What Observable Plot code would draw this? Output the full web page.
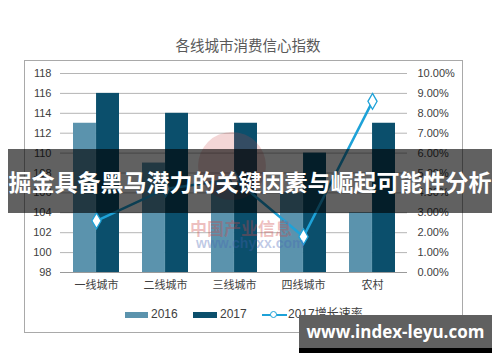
<!DOCTYPE html>
<html>
<head>
<meta charset="utf-8">
<script src="https://cdn.jsdelivr.net/npm/d3@7"></script>
<script src="https://cdn.jsdelivr.net/npm/@observablehq/plot@0.6"></script>
<style>
  html, body { margin: 0; padding: 0; background: #ffffff; }
  #wrap { position: relative; width: 500px; height: 362px; overflow: hidden; font-family: "Liberation Sans", "Noto Sans CJK SC", sans-serif; }
  #wrap svg { position: absolute; left: 0; top: 0; }
  .abs { position: absolute; }
  #frame { left: 24px; top: 60px; width: 437px; height: 271px; border: 1px solid #a9a9a9; box-sizing: content-box; }
  #title { left: 0; width: 496px; top: 37px; text-align: center; font-size: 14.5px; color: #595959; line-height: 18px; }
  .legtxt { font-size: 12px; color: #404040; line-height: 14px; top: 307px; }
  .sw { top: 312px; height: 6px; }
  #banner { left: 8px; top: 149px; width: 484px; height: 64px; background: rgba(0,0,0,0.62); color: #fff; font-family: "Noto Sans CJK SC", sans-serif; font-weight: 700; font-size: 23px; line-height: 64px; text-align: center; white-space: nowrap; }
  #url { left: 299px; top: 315px; width: 193px; height: 33px; background: #606060; border-bottom: 5px solid #000; color: #fff; font-family: "Open Sans", sans-serif; font-weight: 700; font-size: 17px; line-height: 33px; text-align: center; white-space: nowrap; }
  #wm1 { left: 190px; top: 218px; font-family: "Noto Sans CJK SC", sans-serif; font-weight: 700; font-size: 17px; line-height: 20px; color: rgba(205,70,70,0.35); white-space: nowrap; }
  #wm2 { left: 196px; top: 235px; font-family: "Liberation Sans", sans-serif; font-weight: 700; font-size: 14px; line-height: 16px; color: rgba(70,100,180,0.35); white-space: nowrap; }
  #wmc { left: 198px; top: 132px; width: 68px; height: 68px; border-radius: 50%; background: rgba(200,70,70,0.22); }
</style>
</head>
<body>
<div id="wrap">
  <div id="plot"></div>
</div>
<script>
const categories = ["一线城市", "二线城市", "三线城市", "四线城市", "农村"];
const values2016 = [113, 109, 107, 106, 104];
const values2017 = [116, 114, 113, 110, 113];
const growth2017 = [2.6, 4.2, 4.7, 1.8, 8.6]; // percent
const leftTicks = [98, 100, 102, 104, 106, 108, 110, 112, 114, 116, 118];
const rightTicks = [0, 1, 2, 3, 4, 5, 6, 7, 8, 9, 10];
const seriesNames = ["2016", "2017", "2017增长速率"];
const titleText = "各线城市消费信心指数";
const bannerText = "掘金具备黑马潜力的关键因素与崛起可能性分析";
const urlText = "www.index-leyu.com";

const c2016 = "#5b93ad", c2017 = "#0b4f6c", cLine = "#1ea2d8";
const table = categories.map((c, i) => ({cat: c, v2016: values2016[i], v2017: values2017[i], g: growth2017[i]}));
// right axis (0%..10%) mapped onto left scale (98..118)
const pctToY = p => 98 + p * 2;

const chart = Plot.plot({
  width: 500, height: 362,
  marginLeft: 60, marginRight: 93, marginTop: 73, marginBottom: 90,
  style: {fontFamily: '"Liberation Sans", "Noto Sans CJK SC", sans-serif', fontSize: "11px", color: "#404040", background: "transparent", overflow: "visible"},
  x: {type: "band", domain: categories, paddingInner: 1/3, paddingOuter: 1/6, label: null},
  y: {domain: [98, 118], label: null},
  marks: [
    Plot.gridY(leftTicks, {stroke: "#b5b5b5", strokeOpacity: 1}),
    Plot.barY(table, {x: "cat", y1: 98, y2: "v2016", fill: c2016, insetRight: 23.05}),
    Plot.barY(table, {x: "cat", y1: 98, y2: "v2017", fill: c2017, insetLeft: 23.05}),
    Plot.ruleY([98], {stroke: "#9a9a9a"}),
    Plot.axisY(leftTicks, {tickSize: 0, tickPadding: 9, fontSize: 11, label: null}),
    Plot.text(rightTicks, {y: d => pctToY(d), text: d => d.toFixed(2) + "%", frameAnchor: "right", dx: 10, textAnchor: "start", fontSize: 11, fill: "#404040"}),
    Plot.axisX({tickSize: 0, tickPadding: 9, fontSize: 11, label: null}),
    Plot.line(table, {x: "cat", y: d => pctToY(d.g), stroke: cLine, strokeWidth: 2.5}),
    Plot.dot(table, {x: "cat", y: d => pctToY(d.g), symbol: "diamond", r: 4.8, fill: "white", stroke: cLine, strokeWidth: 1.3})
  ]
});
document.getElementById("plot").appendChild(chart);

const wrap = document.getElementById("wrap");
function add(id, cls, html, style) {
  const d = document.createElement("div");
  if (id) d.id = id;
  d.className = "abs " + (cls || "");
  if (html != null) d.textContent = html;
  if (style) Object.assign(d.style, style);
  wrap.appendChild(d);
  return d;
}
add("frame", "", null);
add("title", "", titleText);
// watermark
add("wmc", "", null);
add("wm1", "", "中国产业信息");
add("wm2", "", "www.chyxx.com");
// legend
add(null, "sw", null, {left: "125px", width: "23px", background: c2016});
add(null, "legtxt", seriesNames[0], {left: "151px"});
add(null, "sw", null, {left: "193px", width: "24px", background: c2017});
add(null, "legtxt", seriesNames[1], {left: "220px"});
add(null, "", null, {left: "262px", top: "313.5px", width: "25px", height: "2.5px", background: cLine});
add(null, "", null, {left: "270px", top: "311px", width: "5px", height: "5px", borderRadius: "50%", background: "#fff", border: "1.3px solid " + cLine});
add(null, "legtxt", seriesNames[2], {left: "288px"});
// overlays
add("banner", "", bannerText);
add("url", "", urlText);
</script>
</body>
</html>
